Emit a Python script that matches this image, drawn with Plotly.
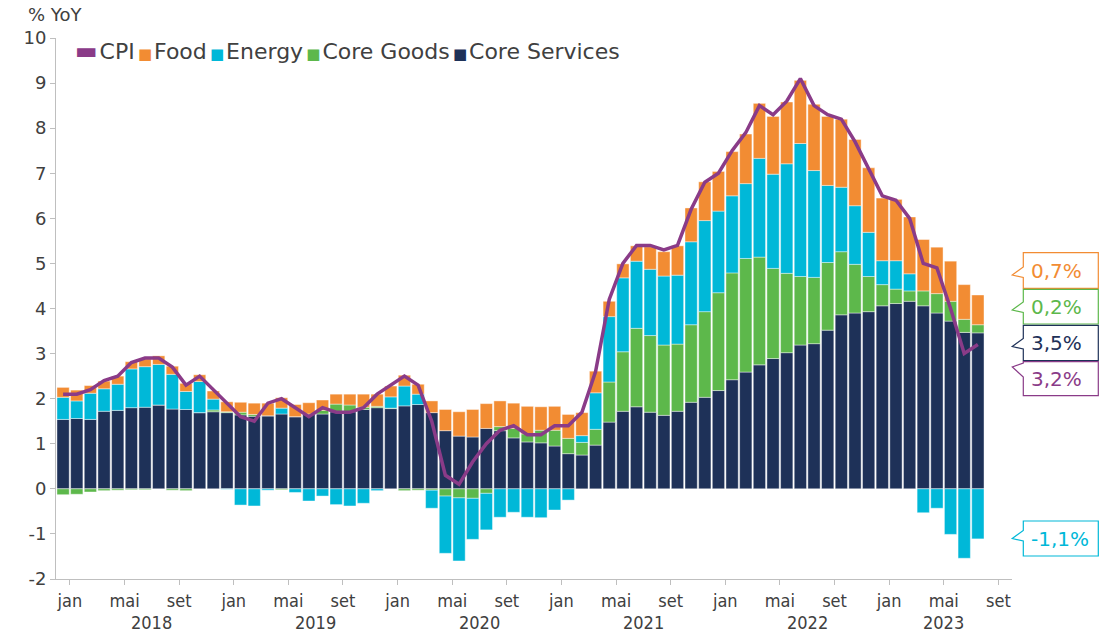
import plotly.graph_objects as go

# ---------------- data (Dec 2017 .. Jul 2023), contributions in p.p. ----------------
month_abbr = ["jan", "fev", "mar", "abr", "mai", "jun", "jul", "ago", "set", "out", "nov", "dez"]
months = ["dez 2017"] + [f"{m} {y}" for y in range(2018, 2024) for m in month_abbr][:67]

core_services = [1.54, 1.56, 1.54, 1.72, 1.74, 1.80, 1.81, 1.86, 1.77, 1.76, 1.69, 1.71, 1.69,
                 1.64, 1.61, 1.62, 1.66, 1.60, 1.66, 1.66, 1.71, 1.71, 1.76, 1.80, 1.78,
                 1.84, 1.87, 1.69, 1.29, 1.17, 1.15, 1.34, 1.29, 1.13, 1.04, 1.02, 0.95,
                 0.78, 0.75, 0.97, 1.48, 1.72, 1.82, 1.70, 1.63, 1.72, 1.92, 2.03, 2.18,
                 2.42, 2.59, 2.75, 2.89, 3.02, 3.19, 3.22, 3.52, 3.86, 3.90, 3.93, 4.06,
                 4.11, 4.16, 4.06, 3.90, 3.72, 3.47, 3.46]
core_goods = [-0.13, -0.12, -0.07, -0.04, -0.03, -0.02, -0.02, 0.00, -0.03, -0.04, 0.00, 0.04, 0.02,
              0.06, 0.04, 0.00, -0.02, 0.00, 0.00, 0.08, 0.17, 0.15, 0.05, 0.03, 0.01,
              -0.04, -0.03, -0.03, -0.16, -0.20, -0.21, -0.10, 0.09, 0.21, 0.18, 0.28, 0.35,
              0.34, 0.28, 0.35, 0.89, 1.32, 1.74, 1.70, 1.56, 1.49, 1.72, 1.90, 2.17,
              2.37, 2.52, 2.39, 2.00, 1.76, 1.52, 1.47, 1.50, 1.40, 1.08, 0.78, 0.47,
              0.32, 0.23, 0.33, 0.43, 0.44, 0.29, 0.18]
energy = [0.49, 0.39, 0.58, 0.50, 0.58, 0.86, 0.90, 0.90, 0.77, 0.40, 0.69, 0.24, -0.01,
          -0.36, -0.38, -0.03, 0.13, -0.08, -0.27, -0.16, -0.35, -0.38, -0.32, -0.04, 0.25,
          0.44, 0.23, -0.40, -1.27, -1.40, -0.91, -0.81, -0.63, -0.52, -0.63, -0.64, -0.47,
          -0.25, 0.15, 0.81, 1.45, 1.64, 1.49, 1.47, 1.53, 1.53, 1.84, 2.02, 1.81,
          1.71, 1.66, 2.19, 2.09, 2.43, 2.95, 2.37, 1.71, 1.43, 1.30, 0.98, 0.53,
          0.63, 0.38, -0.53, -0.43, -1.01, -1.54, -1.11]
food = [0.22, 0.24, 0.17, 0.17, 0.18, 0.16, 0.17, 0.19, 0.18, 0.18, 0.15, 0.18, 0.22,
        0.22, 0.25, 0.28, 0.23, 0.27, 0.25, 0.23, 0.22, 0.24, 0.29, 0.27, 0.24,
        0.24, 0.22, 0.26, 0.47, 0.54, 0.61, 0.55, 0.57, 0.56, 0.61, 0.52, 0.53,
        0.53, 0.51, 0.48, 0.34, 0.31, 0.34, 0.50, 0.54, 0.65, 0.75, 0.86, 0.88,
        0.98, 1.10, 1.22, 1.28, 1.37, 1.40, 1.47, 1.53, 1.51, 1.47, 1.43, 1.39,
        1.36, 1.26, 1.14, 1.03, 0.89, 0.77, 0.66]
cpi = [2.1, 2.1, 2.2, 2.4, 2.5, 2.8, 2.9, 2.9, 2.7, 2.3, 2.5, 2.2, 1.9,
       1.6, 1.5, 1.9, 2.0, 1.8, 1.6, 1.8, 1.7, 1.7, 1.8, 2.1, 2.3,
       2.5, 2.3, 1.5, 0.3, 0.1, 0.6, 1.0, 1.3, 1.4, 1.2, 1.2, 1.4,
       1.4, 1.7, 2.6, 4.2, 5.0, 5.4, 5.4, 5.3, 5.4, 6.2, 6.8, 7.0,
       7.5, 7.9, 8.5, 8.3, 8.6, 9.1, 8.5, 8.3, 8.2, 7.7, 7.1, 6.5,
       6.4, 6.0, 5.0, 4.9, 4.0, 3.0, 3.2]

tick_labels = ["jan", "mai", "set"] * 6
year_labels = ["2018", "2019", "2020", "2021", "2022", "2023"]
y_ticks = list(range(-2, 11))

# ---------------- style ----------------
C_CPI = "#8A3B88"
C_FOOD = "#F28C33"
C_EN = "#00B8D8"
C_CG = "#5DB84B"
C_CS = "#1E3158"
TXT = "#404040"
AX = "#BFBFBF"
FONT = "DejaVu Sans, Verdana, sans-serif"
XFONT = "DejaVu Sans Condensed, DejaVu Sans, sans-serif"

W, H = 1119, 632
L, R, T, B = 56, 107, 38, 53
PW, PH = W - L - R, H - T - B


def fx(px):
    return (px - L) / PW


def fy(py):
    return (H - B - py) / PH


x = list(range(len(months)))
fig = go.Figure()
for name, vals, col in [("Core Services", core_services, C_CS), ("Core Goods", core_goods, C_CG),
                        ("Energy", energy, C_EN), ("Food", food, C_FOOD)]:
    fig.add_bar(x=x, y=vals, name=name, hovertext=months, showlegend=False,
                marker=dict(color=col, line=dict(color="rgba(255,255,255,0.6)", width=0.7)))
fig.add_scatter(x=x, y=cpi, mode="lines", name="CPI", hovertext=months, showlegend=False,
                line=dict(color=C_CPI, width=3.5))

# tick positions: month boundaries (start of jan / mai / set)
tick_vals = [months.index("jan 2018") - 0.5 + 4 * k for k in range(len(tick_labels))]

annotations = []
# year labels centred between ticks
for k, yl in enumerate(year_labels):
    start = tick_vals[3 * k]
    end = min(start + 12, tick_vals[-1])
    annotations.append(dict(x=(start + end) / 2, xref="x", y=fy(622), yref="paper", text=yl,
                            showarrow=False, xanchor="center", yanchor="middle",
                            font=dict(family=XFONT, size=18, color=TXT)))

# axis title
annotations.append(dict(x=fx(26), xref="paper", y=fy(15), yref="paper", text="% YoY", showarrow=False,
                        xanchor="left", yanchor="middle", font=dict(family=FONT, size=18, color=TXT)))


# legend (Excel-like compact)
def gap(n=8):
    return f'<span style="font-size:{n}px"> </span>'


def sw(col, ch="■", size=15):
    return f'<span style="color:{col};font-size:{size}px">{ch}</span>'


legend_text = (sw(C_CPI, "▬", 24) + gap(6) + "CPI" + gap(10) + sw(C_FOOD) + gap(6) + "Food" + gap(10) +
               sw(C_EN) + gap(6) + "Energy" + gap(10) + sw(C_CG) + gap(6) + "Core Goods" + gap(10) +
               sw(C_CS) + gap(6) + "Core Services")
annotations.append(dict(x=fx(73), xref="paper", y=fy(51), yref="paper", text=legend_text, showarrow=False,
                        xanchor="left", yanchor="middle", font=dict(family=FONT, size=22, color=TXT)))


# callouts with last values
def fmt(v):
    return f"{v:.1f}".replace(".", ",") + "%"


callouts = [
    (food[-1], C_FOOD, 252.7, 288.3, 267, 275, 277.5),
    (core_goods[-1], C_CG, 289.3, 324.0, 302, 310, 312.5),
    (core_services[-1], C_CS, 325.3, 360.7, 338.5, 346.5, 349),
    (cpi[-1], C_CPI, 361.7, 395.7, 363, 367, 377),
    (energy[-1], C_EN, 521.0, 556.0, 530.5, 538.5, 541),
]
shapes = []
xl, xr, xt = fx(1023.3), fx(1098.3), fx(1012.3)
for val, col, top, bot, nu, nt, nl in callouts:
    path = (f"M {xl},{fy(top)} L {xr},{fy(top)} L {xr},{fy(bot)} L {xl},{fy(bot)} "
            f"L {xl},{fy(nl)} L {xt},{fy(nt)} L {xl},{fy(nu)} Z")
    shapes.append(dict(type="path", path=path, xref="paper", yref="paper",
                       fillcolor="white", line=dict(color=col, width=1.2), layer="above"))
    annotations.append(dict(x=fx(1029), xref="paper", y=fy((top + bot) / 2), yref="paper", text=fmt(val),
                            showarrow=False, xanchor="left", yanchor="middle",
                            font=dict(family=FONT, size=20, color=col)))

fig.update_layout(
    width=W, height=H, margin=dict(l=L, r=R, t=T, b=B), autosize=False,
    barmode="relative", bargap=0.1,
    plot_bgcolor="white", paper_bgcolor="white",
    font=dict(family=FONT, size=16, color=TXT),
    annotations=annotations, shapes=shapes, showlegend=False,
)
fig.update_xaxes(range=[-0.52, 69.5], tickmode="array", tickvals=tick_vals, ticktext=tick_labels,
                 ticks="outside", ticklen=5, tickcolor=AX, showline=True, linecolor=AX, linewidth=1,
                 showgrid=False, zeroline=False,
                 tickfont=dict(family=XFONT, size=18, color=TXT))
fig.update_yaxes(range=[-2, 10], tickmode="array", tickvals=y_ticks, ticktext=[str(v) for v in y_ticks],
                 ticks="outside", ticklen=5, tickcolor=AX, showline=True, linecolor=AX, linewidth=1,
                 showgrid=False, zeroline=False, tickfont=dict(family=FONT, size=18, color=TXT))

fig.write_html("out.html", config={"displayModeBar": False},
               post_script="document.body.style.margin='0';")
